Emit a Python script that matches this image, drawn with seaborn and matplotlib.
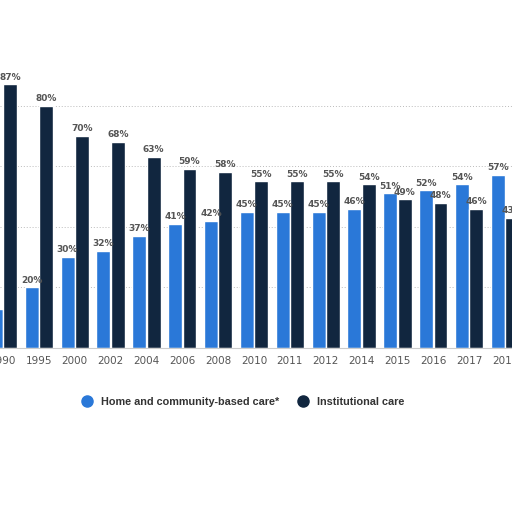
import matplotlib
matplotlib.use("Agg")
import matplotlib.pyplot as plt
from matplotlib.lines import Line2D
import seaborn as sns
import pandas as pd

years = ["1990", "1995", "2000", "2002", "2004", "2006", "2008", "2010",
         "2011", "2012", "2014", "2015", "2016", "2017", "2018"]
home_care = [13, 20, 30, 32, 37, 41, 42, 45, 45, 45, 46, 51, 52, 54, 57]
institutional = [87, 80, 70, 68, 63, 59, 58, 55, 55, 55, 54, 49, 48, 46, 43]
series_names = ["Home and community-based care*", "Institutional care"]
colors = ["#2a78d8", "#11263f"]

df = pd.DataFrame({
    "year": years * 2,
    "value": home_care + institutional,
    "series": [series_names[0]] * len(years) + [series_names[1]] * len(years),
})

sns.set_theme(style="white")
plt.rcParams['font.family'] = ['DejaVu Sans']

fig = plt.figure(figsize=(5.12, 5.12), dpi=100)
ax = fig.add_axes([0.0, 0.3203, 1.0, 0.592])

sns.barplot(data=df, x="year", y="value", hue="series", order=years,
            hue_order=series_names, palette=colors, width=0.8, gap=0.03,
            saturation=1, legend=False, ax=ax)

for cont in ax.containers:
    ax.bar_label(cont, labels=[f"{int(v)}%" for v in cont.datavalues],
                 padding=2, fontsize=6.5, fontweight="bold", color="#555555")

ax.set_xlim(-0.084, 14.195)
ax.set_ylim(0, 100)
ax.set_yticks([20, 40, 60, 80])
ax.set_yticklabels([])
ax.tick_params(axis="y", length=0)
ax.yaxis.grid(True, linestyle=(0, (1, 2)), color="#bbbbbb", linewidth=0.7)
ax.set_axisbelow(True)
ax.tick_params(axis="x", length=0, pad=6, labelsize=7.5, labelcolor="#555555")
ax.set_xlabel("")
ax.set_ylabel("")
for s in ["top", "left", "right"]:
    ax.spines[s].set_visible(False)
ax.spines["bottom"].set_color("#cccccc")
ax.spines["bottom"].set_linewidth(0.8)

handles = [Line2D([0], [0], marker="o", linestyle="", markersize=8,
                  markerfacecolor=c, markeredgecolor=c) for c in colors]
fig.legend(handles, series_names, loc="center", bbox_to_anchor=(0.47, 0.215),
           ncol=2, frameon=False, labelcolor="#333333",
           prop={"family": "Liberation Sans", "weight": "bold", "size": 7.8},
           handletextpad=0.3, columnspacing=1.2)

fig.savefig("out.png", dpi=100)
